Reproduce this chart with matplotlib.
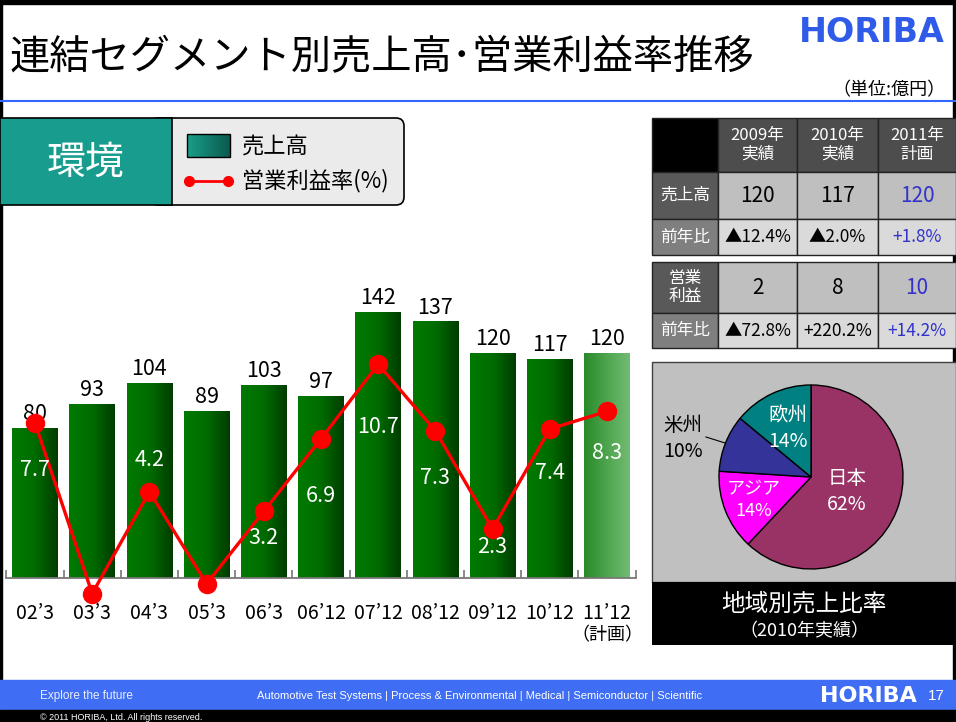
import numpy as np
import matplotlib.pyplot as plt
from matplotlib.patches import Rectangle, FancyBboxPatch
from matplotlib.colors import LinearSegmentedColormap

plt.rcParams['font.family'] = ['Noto Sans CJK JP', 'DejaVu Sans']

# --- data -------------------------------------------------------------
periods = ["02’3", "03’3", "04’3", "05’3", "06’3", "06’12",
           "07’12", "08’12", "09’12", "10’12", "11’12"]
sales = [80, 93, 104, 89, 103, 97, 142, 137, 120, 117, 120]
margin = [7.7, -1.0, 4.2, -0.5, 3.2, 6.9, 10.7, 7.3, 2.3, 7.4, 8.3]

table_years = ['2009年\n実績', '2010年\n実績', '2011年\n計画']
table_rows = ['売上高', '前年比', '営業\n利益', '前年比']
table_sales = ['120', '117', '120']
table_sales_yoy = ['▲12.4%', '▲2.0%', '+1.8%']
table_profit = ['2', '8', '10']
table_profit_yoy = ['▲72.8%', '+220.2%', '+14.2%']

regions = ['日本', 'アジア', '米州', '欧州']
region_share = [62, 14, 10, 14]

# --- styles -----------------------------------------------------------
W, H = 956, 722
margin_label_dy = [-34, 33, 23, 24, -19, -41, -45, -34, -13, -32, -30]
pie_colors = ['#993366', '#ff00ff', '#333399', '#008080']
pie_label_r = [0.42, 0.67, None, 0.58]
blue_text = '#3333cc'

fig = plt.figure(figsize=(W / 100, H / 100), dpi=100)


def fig_rect(x0, y0, x1, y1):
    return [x0 / W, 1 - y1 / H, (x1 - x0) / W, (y1 - y0) / H]


bg = fig.add_axes([0, 0, 1, 1])
bg.set_xlim(0, W)
bg.set_ylim(H, 0)
bg.axis('off')

# frame, title, header
bg.add_patch(Rectangle((0, 0), W, 4, color='black'))
bg.add_patch(Rectangle((0, 0), 2, 680, color='black'))
bg.add_patch(Rectangle((953, 0), 3, 680, color='black'))
bg.plot([0, W], [101, 101], color='#3366ff', lw=1.5)
bg.text(10, 58, '連結セグメント別売上高･営業利益率推移', fontsize=29,
        va='center', ha='left')
bg.text(945, 32, 'HORIBA', fontsize=24, fontweight='bold', color='#2f5be8',
        family='DejaVu Sans', va='center', ha='right')
bg.text(946, 90, '（単位:億円）', fontsize=13, va='center', ha='right')

# legend box
bg.add_patch(FancyBboxPatch((150, 118), 254, 87,
                            boxstyle='round,pad=0,rounding_size=8',
                            fc='#ebebeb', ec='black', lw=1.2))
bg.add_patch(Rectangle((0, 118), 172, 87, fc='#179c8e', ec='black', lw=1.2))
bg.text(86, 163, '環境', fontsize=28, color='white', ha='center', va='center')
teal = LinearSegmentedColormap.from_list('teal', ['#1a9e8a', '#0b5a4e'])
grad = np.linspace(0, 1, 64).reshape(1, -1)
bg.imshow(grad, extent=(187, 230, 157, 134), cmap=teal, aspect='auto',
          zorder=2)
bg.add_patch(Rectangle((187, 134), 43, 23, fc='none', ec='black', lw=1,
                       zorder=3))
bg.text(242, 147, '売上高', fontsize=16, va='center')
bg.plot([189, 228], [181, 181], color='red', lw=2, marker='o', ms=7)
bg.text(242, 181, '営業利益率(%)', fontsize=16, va='center')
bg.set_xlim(0, W)
bg.set_ylim(H, 0)

# table
cols = [652, 718, 797, 878, 956]
blocks = [([118, 172, 219, 255], ['', table_rows[0], table_rows[1]],
           [table_years, table_sales, table_sales_yoy]),
          ([262, 313, 348], [table_rows[2], table_rows[3]],
           [table_profit, table_profit_yoy])]
for rows, labels, values in blocks:
    for r in range(len(rows) - 1):
        y0, y1 = rows[r], rows[r + 1]
        lab = labels[r]
        header = lab == ''
        is_yoy = lab == '前年比'
        lab_fc = 'black' if header else ('#7f7f7f' if is_yoy else '#595959')
        bg.add_patch(Rectangle((cols[0], y0), cols[1] - cols[0], y1 - y0,
                               fc=lab_fc, ec='#222222', lw=1))
        bg.text((cols[0] + cols[1]) / 2, (y0 + y1) / 2, lab, color='white',
                fontsize=12, ha='center', va='center', linespacing=1.1)
        for c in range(3):
            fc = '#4d4d4d' if header else ('#dadada' if is_yoy else '#bfbfbf')
            bg.add_patch(Rectangle((cols[c + 1], y0), cols[c + 2] - cols[c + 1],
                                   y1 - y0, fc=fc, ec='#222222', lw=1))
            if header:
                color, fs = 'white', 12
            else:
                color = blue_text if c == 2 else 'black'
                fs = 12.5 if is_yoy else 15
            bg.text((cols[c + 1] + cols[c + 2]) / 2, (y0 + y1) / 2,
                    values[r][c], color=color, fontsize=fs, ha='center',
                    va='center', linespacing=1.1)

# pie panel
bg.add_patch(Rectangle((652, 362), 304, 220, fc='#c0c0c0', ec='#404040', lw=1))
bg.add_patch(Rectangle((652, 582), 304, 63, fc='black'))
bg.text(804, 604, '地域別売上比率', color='white', fontsize=17,
        ha='center', va='center')
bg.text(804, 631, '（2010年実績）', color='white', fontsize=13,
        ha='center', va='center')

# footer
bg.add_patch(Rectangle((0, 680), W, 30, color='#3f6df3'))
bg.add_patch(Rectangle((0, 710), W, 12, color='black'))
bg.text(40, 696, 'Explore the future', color='#e8eeff', fontsize=8.5,
        family='Liberation Sans', va='center')
bg.text(480, 696, 'Automotive Test Systems | Process & Environmental | Medical'
        ' | Semiconductor | Scientific', color='white', fontsize=8,
        family='Liberation Sans', va='center', ha='center')
bg.text(917, 696, 'HORIBA', color='white', fontsize=16, fontweight='bold',
        family='DejaVu Sans', va='center', ha='right')
bg.text(945, 696, '17', color='white', fontsize=11, family='Liberation Sans',
        va='center', ha='right')
bg.text(40, 717, '© 2011 HORIBA, Ltd. All rights reserved.', color='white',
        fontsize=6.5, family='Liberation Sans', va='center')

# --- bar + line chart -------------------------------------------------
ax = fig.add_axes(fig_rect(6.4, 290, 635.6, 578))
ax.patch.set_alpha(0)
x = np.arange(len(periods))
bars = ax.bar(x, sales, width=0.8, color='none', edgecolor='none')
dark = LinearSegmentedColormap.from_list('g', ['#007a00', '#006c00', '#003d00'])
light = LinearSegmentedColormap.from_list('lg', ['#2a8a2a', '#4ea54e', '#72bc72'])
for i, rect in enumerate(bars):
    cm = light if i == len(bars) - 1 else dark
    im = ax.imshow(grad, extent=(rect.get_x(), rect.get_x() + rect.get_width(),
                                 0, rect.get_height()),
                   cmap=cm, aspect='auto', zorder=1)
    im.set_clip_path(rect)
    ax.annotate(str(sales[i]), (x[i], sales[i]), xytext=(0, 10),
                textcoords='offset points', ha='center', va='center',
                fontsize=15.5)

ax.set_xlim(-0.5, 10.5)
ax.set_ylim(0, 153.8)
for s in ['top', 'left', 'right']:
    ax.spines[s].set_visible(False)
ax.spines['bottom'].set_color('#777777')
ax.spines['bottom'].set_linewidth(1.3)
ax.set_yticks([])
ax.set_xticks(x)
ax.set_xticklabels(periods, fontsize=14)
ax.set_xticks(np.arange(-0.5, 11, 1), minor=True)
ax.tick_params(axis='x', which='major', length=0, pad=18)
ax.tick_params(axis='x', which='minor', length=6, direction='in',
               color='#777777', width=1.2)
ax.text(x[-1], -0.2, '（計画）', transform=ax.get_xaxis_transform(),
        ha='center', va='center', fontsize=13)

ax2 = ax.twinx()
ax2.patch.set_alpha(0)
ax2.set_ylim(-0.204, 14.49)
ax2.axis('off')
ax2.plot(x, margin, color='red', lw=2.4, marker='o', ms=13, clip_on=False)
for i, v in enumerate(margin):
    ax2.annotate(f'{v:.1f}'.replace('-', '−'), (x[i], v),
                 xytext=(0, margin_label_dy[i]), textcoords='offset points',
                 ha='center', va='center', color='white', fontsize=15.5)

# --- pie ------------------------------------------------------------
cx, cy, r = 811, 477, 92
axp = fig.add_axes(fig_rect(cx - r, cy - r, cx + r, cy + r))
wedges, _ = axp.pie(region_share, colors=pie_colors, startangle=90,
                    counterclock=False,
                    wedgeprops=dict(edgecolor='black', linewidth=1))
for w in wedges:
    w.set_clip_on(False)
axp.set_xlim(-1, 1)
axp.set_ylim(-1, 1)
axp.axis('off')
for w, name, share, lr in zip(wedges, regions, region_share, pie_label_r):
    mid = np.deg2rad((w.theta1 + w.theta2) / 2)
    label = f'{name}\n{share}%'
    if lr is None:
        axp.annotate(label, (np.cos(mid), np.sin(mid)),
                     xytext=(-1.39, 0.42), ha='center', va='center',
                     fontsize=14, linespacing=1.3,
                     arrowprops=dict(arrowstyle='-', lw=0.8, shrinkA=0,
                                     shrinkB=0, relpos=(1.0, 0.55)))
    else:
        fs = 13 if name == 'アジア' else 14
        axp.text(lr * np.cos(mid), lr * np.sin(mid), label, color='white',
                 ha='center', va='center', fontsize=fs, linespacing=1.3)

fig.savefig('out.png', dpi=100)
